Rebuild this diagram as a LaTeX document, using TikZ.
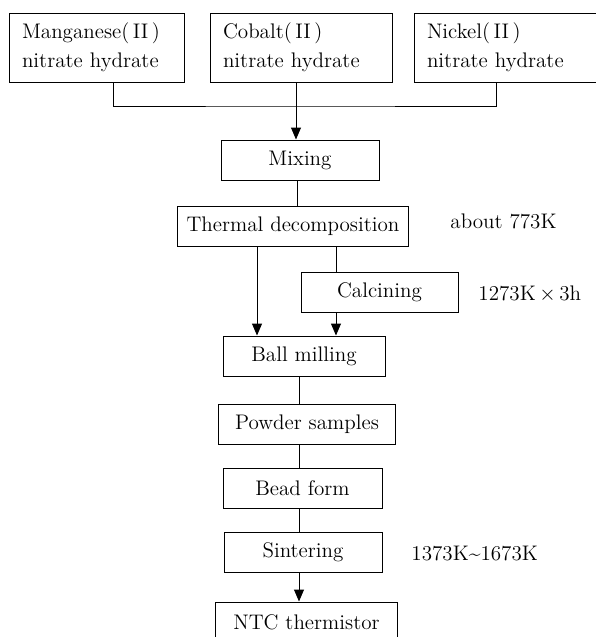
\documentclass[tikz,border=0pt]{standalone}
\usetikzlibrary{arrows.meta}
\begin{document}
\begin{tikzpicture}[
        x=0.02cm, y=-0.02cm, line width=0.55pt,
        font=\fontsize{12}{16.5}\selectfont,
        src/.style={draw, align=left, minimum height=1.38cm, inner xsep=0.26cm, inner ysep=0pt},
        proc/.style={draw, minimum height=0.8cm, inner sep=0pt},
        note/.style={anchor=west, inner sep=0pt},
        arr/.style={-{Triangle[length=0.24cm, width=0.2cm]}},
        ]
    \useasboundingbox (0,0) rectangle (596,637);
    % raw materials
    \node (mn) [src, text width=3.00cm] at (97,47.5) {Manganese(\,II\,)\\nitrate hydrate};
    \node (co) [src, text width=3.14cm] at (301.5,47.5) {Cobalt(\,II\,)\\nitrate hydrate};
    \node (ni) [src, text width=3.16cm] at (506,47.5) {Nickel(\,II\,)\\nitrate hydrate};
    % process steps
    \node (mix) [proc, minimum width=3.16cm] at (300,160) {Mixing};
    \node (dec) [proc, minimum width=4.64cm] at (293,226) {Thermal decomposition};
    \node (calc) [proc, minimum width=3.14cm] at (379.5,292) {Calcining};
    \node (ball) [proc, minimum width=3.24cm] at (304,356) {Ball milling};
    \node (pow) [proc, minimum width=3.56cm] at (307,424.5) {Powder samples};
    \node (bead) [proc, minimum width=3.18cm] at (302.5,488.5) {Bead form};
    \node (sint) [proc, minimum width=3.16cm] at (303,552) {Sintering};
    \node (ntc) [proc, minimum width=3.66cm] at (306.5,622) {NTC thermistor};
    % conditions
    \node (t1) [note] at (450,221) {about 773K};
    \node (t2) [note] at (478,294) {1273K$\,\times\,$3h};
    \node (t3) [note] at (411,554) {1373K\textasciitilde 1673K};
    % connectors
    \coordinate (j) at (296,106);
    \coordinate (c) at (299,0);
    \coordinate (dl) at ([xshift=-0.72cm]dec.south);
    \coordinate (dr) at ([xshift=0.86cm]dec.south);
    \draw ([xshift=0.32cm]mn.south) |- (j) -| ([xshift=-0.2cm]ni.south);
    \draw[arr] (co.south -| j) -- (mix.north -| j);
    \draw (mix.south -| 297,0) -- (dec.north -| 297,0);
    \draw[arr] (dl) -- (ball.north -| dl);
    \draw (dr) -- (calc.north -| dr);
    \draw[arr] (calc.south -| dr) -- (ball.north -| dr);
    \draw (ball.south -| c) -- (pow.north -| c);
    \draw (pow.south -| c) -- (bead.north -| c);
    \draw (bead.south -| c) -- (sint.north -| c);
    \draw[arr] (sint.south -| c) -- (ntc.north -| c);
\end{tikzpicture}
\end{document}
